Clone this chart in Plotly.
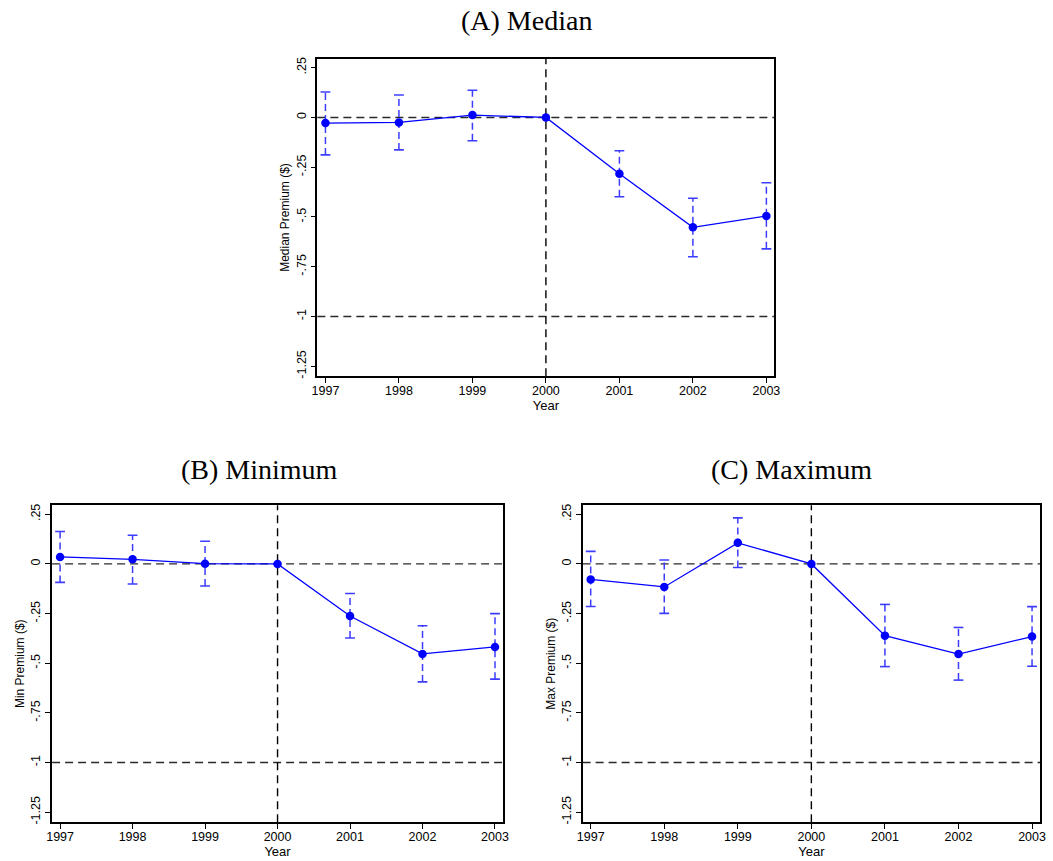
import plotly.graph_objects as go

# Event-study estimates by year (2000 is the omitted base year)
years = [1997, 1998, 1999, 2000, 2001, 2002, 2003]

median_coef = [-0.028, -0.025, 0.012, 0.0, -0.283, -0.552, -0.495]
median_hi = [0.128, 0.113, 0.137, None, -0.167, -0.406, -0.328]
median_lo = [-0.188, -0.163, -0.117, None, -0.398, -0.700, -0.660]

min_coef = [0.035, 0.023, 0.001, 0.0, -0.262, -0.453, -0.418]
min_hi = [0.163, 0.144, 0.114, None, -0.149, -0.311, -0.250]
min_lo = [-0.093, -0.101, -0.111, None, -0.373, -0.594, -0.580]

max_coef = [-0.078, -0.116, 0.106, 0.0, -0.361, -0.454, -0.366]
max_hi = [0.063, 0.020, 0.232, None, -0.204, -0.320, -0.215]
max_lo = [-0.214, -0.249, -0.018, None, -0.517, -0.585, -0.515]

ytick_vals = [0.25, 0.0, -0.25, -0.5, -0.75, -1.0, -1.25]
ytick_text = [".25", "0", "-.25", "-.5", "-.75", "-1", "-1.25"]

panels = [
    dict(title="(A) Median", ylabel="Median Premium ($)", coef=median_coef,
         hi=median_hi, lo=median_lo, xdom=[0.2991, 0.7382], ydom=[0.5633, 0.9338],
         tx=527, ty=19),
    dict(title="(B) Minimum", ylabel="Min Premium ($)", coef=min_coef,
         hi=min_hi, lo=min_lo, xdom=[0.0443, 0.4774], ydom=[0.0430, 0.4127],
         tx=256, ty=470),
    dict(title="(C) Maximum", ylabel="Max Premium ($)", coef=max_coef,
         hi=max_hi, lo=max_lo, xdom=[0.5539, 0.9934], ydom=[0.0430, 0.4127],
         tx=795, ty=470),
]

W, H = 1053, 861
BLUE = "#0000ff"
CI_BLUE = "#3c3cff"
AXFONT = dict(family="Liberation Sans, Arial, sans-serif", size=12.5, color="#000")

fig = go.Figure()
layout = dict(
    width=W, height=H, margin=dict(l=0, r=0, t=0, b=0),
    paper_bgcolor="white", plot_bgcolor="white", showlegend=False,
    shapes=[], annotations=[],
)

for i, p in enumerate(panels, start=1):
    sx = "" if i == 1 else str(i)
    xref, yref = "x" + sx, "y" + sx

    # confidence-interval whiskers (dashed) with caps
    wx, wy, cx, cy = [], [], [], []
    for yr, lo, hi in zip(years, p["lo"], p["hi"]):
        if lo is None:
            continue
        wx += [yr, yr, None]
        wy += [lo, hi, None]
        cx += [yr, yr]
        cy += [lo, hi]
    fig.add_trace(go.Scatter(x=wx, y=wy, mode="lines", xaxis=xref, yaxis=yref,
                             line=dict(color=CI_BLUE, width=1.5, dash="7px,4px"),
                             hoverinfo="skip"))
    fig.add_trace(go.Scatter(x=cx, y=cy, mode="markers", xaxis=xref, yaxis=yref,
                             marker=dict(symbol="line-ew", size=7,
                                         line=dict(color=CI_BLUE, width=1.6)),
                             hoverinfo="skip"))
    # point estimates
    fig.add_trace(go.Scatter(x=years, y=p["coef"], mode="lines+markers",
                             xaxis=xref, yaxis=yref,
                             line=dict(color=BLUE, width=1.3),
                             marker=dict(color=BLUE, size=8.5)))

    layout["xaxis" + sx] = dict(
        domain=p["xdom"], anchor=yref, range=[1996.89, 2003.11],
        tickmode="array", tickvals=years, ticktext=[str(y) for y in years],
        ticks="outside", ticklen=5, tickwidth=1, tickcolor="#000",
        ticklabelstandoff=-3,
        showline=True, linecolor="#000", linewidth=1.5, mirror=True,
        showgrid=False, zeroline=False, tickfont=AXFONT,
        title=dict(text="Year", font=dict(family=AXFONT["family"], size=13, color="#000"),
                   standoff=0),
    )
    layout["yaxis" + sx] = dict(
        domain=p["ydom"], anchor=xref, range=[-1.30, 0.295],
        tickmode="array", tickvals=ytick_vals, ticktext=ytick_text, tickangle=-90,
        ticks="outside", ticklen=5, tickwidth=1, tickcolor="#000",
        showline=True, linecolor="#000", linewidth=1.5, mirror=True,
        showgrid=False, zeroline=False, tickfont=AXFONT,
        title=dict(text=p["ylabel"], font=dict(family=AXFONT["family"], size=12, color="#000"),
                   standoff=2),
    )

    # reference lines: zero, -1 and the base year
    for yv in (0.0, -1.0):
        layout["shapes"].append(dict(type="line", xref=xref + " domain", yref=yref,
                                     x0=0, x1=1, y0=yv, y1=yv, layer="below",
                                     line=dict(color="#2a2a2a", width=1.4, dash="8px,5px")))
    layout["shapes"].append(dict(type="line", xref=xref, yref=yref + " domain",
                                 x0=2000, x1=2000, y0=0, y1=1, layer="below",
                                 line=dict(color="#000", width=1.4, dash="8px,5px")))

    layout["annotations"].append(dict(
        text=p["title"], x=p["tx"] / W, y=1 - p["ty"] / H, xref="paper", yref="paper",
        xanchor="center", yanchor="middle", showarrow=False,
        font=dict(family="Liberation Serif, Times New Roman, serif", size=28, color="#000"),
    ))

fig.update_layout(**layout)
fig.write_html("out.html")
